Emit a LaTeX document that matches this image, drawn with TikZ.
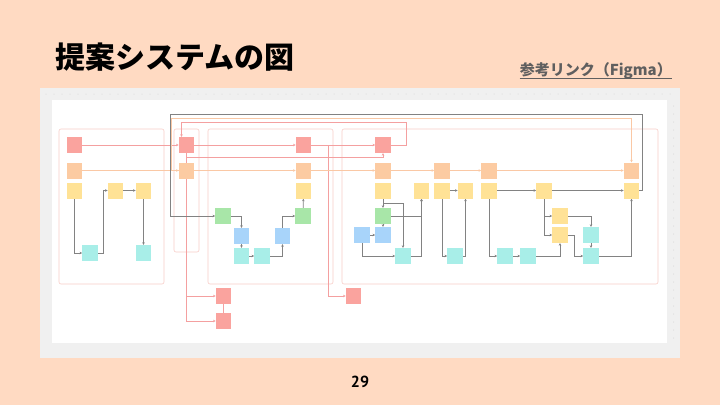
\documentclass[tikz,border=0pt]{standalone}
\usepackage{fontspec}
\setsansfont{PT Sans}
\newfontfamily\jpfont{Noto Sans CJK JP}
\usetikzlibrary{arrows.meta}

\definecolor{slidePeach}{RGB}{255,218,194}
\definecolor{shotGray}{RGB}{240,240,240}
\definecolor{noteRed}{RGB}{250,163,158}
\definecolor{noteOrange}{RGB}{252,203,162}
\definecolor{noteYellow}{RGB}{255,226,150}
\definecolor{noteGreen}{RGB}{168,230,168}
\definecolor{noteBlue}{RGB}{168,212,250}
\definecolor{noteCyan}{RGB}{168,238,232}
\definecolor{lineGray}{RGB}{130,130,130}
\definecolor{linePink}{RGB}{244,160,160}
\definecolor{lineOrange}{RGB}{250,200,165}
\definecolor{groupPink}{RGB}{248,205,200}
\definecolor{linkGray}{RGB}{95,95,95}

\pgfdeclarelayer{back}
\pgfdeclarelayer{wires}
\pgfsetlayers{back,wires,main}

\begin{document}
\begin{tikzpicture}[x=1pt, y=-1pt,
                note/.style={rectangle, minimum width=15.5pt, minimum height=16pt, inner sep=0pt},
                rednote/.style={note, fill=noteRed},
                orangenote/.style={note, fill=noteOrange},
                yellownote/.style={note, fill=noteYellow},
                greennote/.style={note, fill=noteGreen},
                bluenote/.style={note, fill=noteBlue},
                cyannote/.style={note, fill=noteCyan},
                gline/.style={->, line width=0.7pt, draw=lineGray},
                pline/.style={->, line width=0.7pt, draw=linePink},
                oline/.style={->, line width=0.7pt, draw=lineOrange},
                groupbox/.style={draw=groupPink, line width=0.6pt, rounded corners=2pt},
                >={Stealth[length=2.5pt, width=2.5pt]}
            ]
            \useasboundingbox (0,0) rectangle (720,405);

            % slide and screenshot
            \begin{pgfonlayer}{back}
            \fill[slidePeach] (0,0) rectangle (720,405);
            \fill[shotGray] (40,88) rectangle (680,358);
            \fill[white] (52,100) rectangle (667,343);
            \foreach \x in {46,54,...,676} \fill[gray!35] (\x,94) circle (0.5);
            \foreach \y in {106,114,...,338} \fill[gray!35] (673.5,\y) circle (0.5);
            \draw[groupbox] (59,129) rectangle (164,284);
            \draw[groupbox] (174,129) rectangle (199,252);
            \draw[groupbox] (208,129) rectangle (333,284);
            \draw[groupbox] (342,129) rectangle (658,284);
            \end{pgfonlayer}

            \node[anchor=west, font=\jpfont\bfseries\fontsize{30}{36}\selectfont] (title) at (52,57) {提案システムの図};
            \node[anchor=base east, text=linkGray, font=\jpfont\bfseries\fontsize{15}{18}\selectfont, inner sep=0pt] (link) at (672,75) {参考リンク（Figma）};
            \draw[linkGray, line width=0.9pt] ([yshift=-3pt]link.base west) -- ([yshift=-3pt]link.base east);
            \node[font=\sffamily\bfseries\fontsize{16}{19}\selectfont] (page) at (360,382) {29};

            % left group
            \node[rednote] (R1) at (74.5,145) {};
            \node[orangenote] (O1) at (74.5,170.5) {};
            \node[yellownote] (Y1) at (74.5,190.5) {};
            \node[yellownote] (Y2) at (115.5,190.5) {};
            \node[yellownote] (Y3) at (143.5,190.5) {};
            \node[cyannote] (C1) at (90,253) {};
            \node[cyannote] (C2) at (143.5,253) {};

            % narrow group
            \node[rednote] (R2) at (186.5,145) {};
            \node[orangenote] (O2) at (186.5,170.5) {};

            % middle group
            \node[rednote] (R3) at (303.5,145) {};
            \node[orangenote] (O3) at (303.5,170.5) {};
            \node[yellownote] (Y4) at (303.5,190.5) {};
            \node[greennote] (G1) at (223,216) {};
            \node[greennote] (G2) at (303,216) {};
            \node[bluenote] (B1) at (241.5,236) {};
            \node[cyannote] (C3) at (241.5,256) {};
            \node[cyannote] (C4) at (262,256) {};
            \node[bluenote] (B2) at (282.5,236) {};

            % outside the groups
            \node[rednote] (R4) at (223.5,296) {};
            \node[rednote] (R5) at (223.5,321) {};
            \node[rednote] (R6) at (353.5,296) {};

            % right group
            \node[rednote] (R7) at (383,145) {};
            \node[orangenote] (O4) at (383,170.5) {};
            \node[orangenote] (O5) at (442,170.5) {};
            \node[orangenote] (O6) at (489,170.5) {};
            \node[orangenote] (O7) at (631.5,170.5) {};
            \node[yellownote] (Y5) at (383,190.5) {};
            \node[yellownote] (Y6) at (421.5,190.5) {};
            \node[yellownote] (Y7) at (442,190.5) {};
            \node[yellownote] (Y8) at (465.5,190.5) {};
            \node[yellownote] (Y9) at (489,190.5) {};
            \node[yellownote] (Y10) at (544,190.5) {};
            \node[yellownote] (Y11) at (631.5,190.5) {};
            \node[greennote] (G3) at (383,216) {};
            \node[bluenote] (B3) at (383,235) {};
            \node[bluenote] (B4) at (362,235) {};
            \node[cyannote] (C5) at (403,256) {};
            \node[cyannote] (C6) at (455,256) {};
            \node[cyannote] (C7) at (505,256) {};
            \node[cyannote] (C8) at (528,256) {};
            \node[yellownote] (Y12) at (560,216) {};
            \node[yellownote] (Y13) at (560,235) {};
            \node[cyannote] (C9) at (591,235) {};
            \node[cyannote] (C10) at (591,256) {};

            \begin{pgfonlayer}{wires}
            % long lines across the groups
            \draw[pline] (R1) -- (R2);
            \draw[pline] (R2) -- (R3);
            \draw[pline] (R3) -- (R7);
            \draw[pline] (R2.south) -- ++(0,4) -| (R7.south);
            \draw[pline] (R2.south) |- (R4.west);
            \draw[pline] (R2.south) |- (R5.west);
            \draw[line width=0.7pt, linePink] (R4) -- (R5);
            \draw[pline] (R3.east) -- ++(17,0) |- (R6.west);
            \draw[pline] (R7.east) -- ++(15,0) -- ++(0,-23) -| ([xshift=-5pt]R2.north);
            \draw[oline] (O1) -- (O2);
            \draw[oline] (O2) -- (O3);
            \draw[oline] (O3) -- (O4);
            \draw[oline] (O4) -- (O5);
            \draw[oline] (O5) -- (O6);
            \draw[oline] (O6) -- (O7);
            \draw[oline] (O2.west) -- ++(-7,0) -- ++(0,-52.5) -| (O7.north);
            \draw[gline] (Y11.east) -- ++(3,0) -- ++(0,-76.5) -- ++(-472,0) |- (G1.west);

            % left group
            \draw[gline] (Y2) -- (Y3);
            \draw[gline] (Y1.south) |- (C1.west);
            \draw[gline] (C1.east) -- ++(5,0) |- (Y2.west);
            \draw[gline] (Y3) -- (C2);

            % middle group
            \draw[gline] (G1.east) -| (B1.north);
            \draw[gline] (B1) -- (C3);
            \draw[gline] (C3) -- (C4);
            \draw[gline] (C4.east) -| (B2.south);
            \draw[gline] (B2.north) |- (G2.west);
            \draw[gline] (G2) -- (Y4);

            % right group
            \draw[gline] (Y5) -- (G3);
            \draw[gline] (Y5.south) -- ++(0,5) -| (C5.north);
            \draw[gline] (G3.east) -| (Y6.south);
            \draw[gline] (C5.east) -| (Y6.south);
            \draw[gline] (G3) -- (B3);
            \draw[gline] (B4) -- (B3);
            \draw[gline] (B4.south) |- (C5.west);
            \draw[gline] (Y7) -- (Y8);
            \draw[gline] (Y7.south) |- (C6.west);
            \draw[gline] (C6.east) -| (Y8.south);
            \draw[gline] (Y9) -- (Y10);
            \draw[gline] (Y10) -- (Y11);
            \draw[gline] (Y9.south) |- (C7.west);
            \draw[gline] (C7) -- (C8);
            \draw[gline] (C8.east) -| (Y13.south);
            \draw[gline] (Y10.south) |- (Y12.west);
            \draw[gline] (Y10.south) |- (Y13.west);
            \draw[gline] (Y12.east) -| (C9.north);
            \draw[gline] (C9) -- (C10);
            \draw[gline] (Y13.east) -- ++(6,0) |- (C10.west);
            \draw[gline] (C10.east) -| (Y11.south);
            \end{pgfonlayer}
            \end{tikzpicture}
\end{document}
